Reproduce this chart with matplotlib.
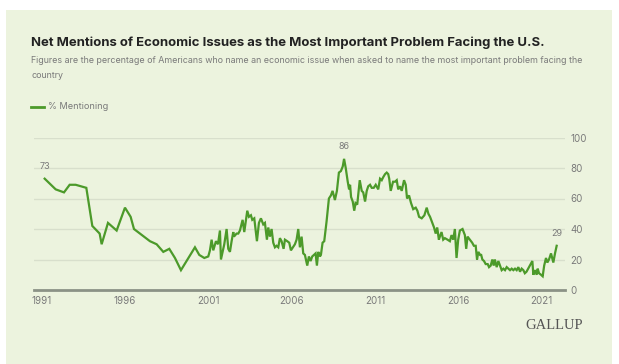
import matplotlib
matplotlib.use("Agg")
import matplotlib.pyplot as plt
from matplotlib.patches import Rectangle

# ---- data ----
years = [
    1991.18, 1991.84, 1992.34, 1992.68, 1993.04, 1993.68, 1994.04, 1994.48, 1994.60, 1994.98,
    1995.50, 1996.00, 1996.34, 1996.54, 1997.50, 1997.90, 1998.30, 1998.66, 1999.00, 1999.36,
    2000.20, 2000.46, 2000.76, 2001.00, 2001.10, 2001.20, 2001.30, 2001.46, 2001.58, 2001.70,
    2001.76, 2001.96, 2002.10, 2002.20, 2002.30, 2002.40, 2002.50, 2002.54, 2002.70, 2002.80,
    2002.90, 2003.06, 2003.16, 2003.34, 2003.44, 2003.56, 2003.64, 2003.76, 2003.92, 2004.04,
    2004.16, 2004.30, 2004.40, 2004.52, 2004.60, 2004.70, 2004.80, 2004.90, 2005.00, 2005.10,
    2005.20, 2005.30, 2005.40, 2005.52, 2005.60, 2005.74, 2005.86, 2005.96, 2006.08, 2006.20,
    2006.30, 2006.40, 2006.50, 2006.60, 2006.70, 2006.80, 2006.94, 2007.04, 2007.14, 2007.24,
    2007.34, 2007.44, 2007.52, 2007.60, 2007.70, 2007.76, 2007.86, 2007.96, 2008.10, 2008.24,
    2008.36, 2008.46, 2008.60, 2008.72, 2008.84, 2008.96, 2009.07, 2009.15, 2009.25, 2009.37,
    2009.45, 2009.51, 2009.57, 2009.67, 2009.76, 2009.84, 2009.94, 2010.09, 2010.21, 2010.30,
    2010.41, 2010.51, 2010.60, 2010.71, 2010.81, 2010.93, 2011.05, 2011.20, 2011.31, 2011.41,
    2011.50, 2011.61, 2011.71, 2011.80, 2011.86, 2011.95, 2012.09, 2012.21, 2012.31, 2012.40,
    2012.51, 2012.61, 2012.75, 2012.85, 2012.93, 2013.05, 2013.17, 2013.30, 2013.45, 2013.55,
    2013.65, 2013.81, 2013.97, 2014.11, 2014.21, 2014.31, 2014.41, 2014.55, 2014.65, 2014.74,
    2014.84, 2014.90, 2015.00, 2015.10, 2015.20, 2015.36, 2015.50, 2015.60, 2015.70, 2015.80,
    2015.90, 2016.00, 2016.10, 2016.26, 2016.40, 2016.48, 2016.56, 2016.70, 2016.84, 2016.94,
    2017.05, 2017.13, 2017.21, 2017.31, 2017.38, 2017.45, 2017.55, 2017.65, 2017.77, 2017.85,
    2017.95, 2018.05, 2018.13, 2018.20, 2018.31, 2018.41, 2018.51, 2018.61, 2018.71, 2018.81,
    2018.91, 2019.01, 2019.11, 2019.21, 2019.31, 2019.41, 2019.51, 2019.61, 2019.71, 2019.81,
    2019.91, 2020.00, 2020.10, 2020.20, 2020.30, 2020.45, 2020.51, 2020.61, 2020.71, 2020.77,
    2020.85, 2020.97, 2021.07, 2021.16, 2021.27, 2021.35, 2021.45, 2021.57, 2021.71, 2021.81,
    2021.91,
]
mentioning = [
    73, 66, 64, 69, 69, 67, 42, 37, 30, 44,
    39, 54, 48, 40, 32, 30, 25, 27, 21, 13,
    28, 23, 21, 22, 26, 33, 26, 32, 30, 39,
    20, 30, 40, 27, 25, 32, 38, 35, 37, 37,
    39, 46, 38, 52, 48, 49, 46, 47, 32, 44,
    47, 43, 44, 33, 41, 35, 40, 31, 28, 29,
    28, 34, 32, 27, 33, 32, 31, 26, 28, 30,
    33, 40, 28, 35, 24, 23, 16, 22, 19, 22,
    23, 24, 16, 25, 22, 23, 31, 32, 45, 60,
    62, 65, 59, 65, 77, 78, 81, 86, 80, 71,
    66, 69, 61, 58, 52, 57, 56, 72, 65, 64,
    58, 65, 68, 69, 67, 67, 69, 66, 73, 72,
    74, 76, 77, 76, 73, 65, 71, 71, 72, 66,
    68, 65, 72, 69, 60, 62, 57, 53, 54, 52,
    48, 47, 49, 54, 50, 48, 45, 41, 37, 41,
    33, 35, 38, 33, 34, 33, 32, 36, 33, 40,
    21, 33, 39, 40, 36, 27, 35, 33, 31, 29,
    29, 20, 25, 23, 23, 20, 19, 17, 17, 15,
    16, 20, 16, 20, 15, 19, 16, 13, 14, 13,
    15, 14, 13, 14, 13, 14, 13, 15, 12, 14,
    13, 11, 12, 14, 16, 19, 10, 13, 10, 14,
    11, 10, 9, 16, 21, 18, 20, 24, 18, 24,
    29,
]
tick_years = [1991, 1996, 2001, 2006, 2011, 2016, 2021]
y_ticks = [0, 20, 40, 60, 80, 100]
labeled_points = [0, mentioning.index(86), len(mentioning) - 1]

title = "Net Mentions of Economic Issues as the Most Important Problem Facing the U.S."
subtitle_lines = [
    "Figures are the percentage of Americans who name an economic issue when asked to name the most important problem facing the",
    "country",
]
legend_label = "% Mentioning"

# ---- style ----
BG = "#ecf3de"
LINE = "#4c9a2a"
GRID = "#d8dfcc"
AXIS = "#8b9286"
TXT = "#7a7a7a"

plt.rcParams["font.family"] = ["Inter", "DejaVu Sans"]

W, H = 619, 364
fig = plt.figure(figsize=(W / 100, H / 100), dpi=100)
fig.patch.set_facecolor("white")
fig.add_artist(Rectangle((6 / W, 0), (612 - 6) / W, (H - 10) / H, transform=fig.transFigure,
                         facecolor=BG, edgecolor="none", zorder=0))

ax = fig.add_axes([34 / W, (H - 290) / H, (565 - 34) / W, (290 - 137.5) / H])
ax.set_facecolor("none")
ax.set_xlim(1990.54, 2022.41)
ax.set_ylim(0, 100)

for yv in y_ticks[1:]:
    ax.axhline(yv, color=GRID, lw=1.0, zorder=1)
ax.axhline(0, color=AXIS, lw=2.0, zorder=2, clip_on=False)

ax.plot(years, mentioning, color=LINE, lw=1.6, zorder=3, solid_joinstyle="miter")

for i in labeled_points:
    ax.annotate(str(mentioning[i]), (years[i], mentioning[i]), xytext=(0, 5.5),
                textcoords="offset points", ha="center", va="bottom",
                fontsize=6.5, color=TXT)

for s in ax.spines.values():
    s.set_visible(False)
ax.set_xticks(tick_years)
ax.set_xticklabels([str(t) for t in tick_years])
ax.set_yticks(y_ticks)
ax.yaxis.tick_right()
ax.tick_params(axis="both", length=0, labelsize=7, labelcolor=TXT)
ax.tick_params(axis="x", pad=4)
ax.tick_params(axis="y", pad=4)

fig.text(31 / W, 1 - 43 / H, title, fontsize=9.45, fontweight="bold", color="#222222",
         va="center", ha="left")
for k, line in enumerate(subtitle_lines):
    fig.text(31 / W, 1 - (60.5 + 14.5 * k) / H, line, fontsize=6.4, color=TXT,
             va="center", ha="left")

fig.add_artist(plt.Line2D([31 / W, 43.5 / W], [1 - 106.5 / H, 1 - 106.5 / H], color=LINE, lw=2,
                          transform=fig.transFigure))
fig.text(48 / W, 1 - 106.5 / H, legend_label, fontsize=6.6, color=TXT, va="center", ha="left")

fig.text(583 / W, 1 - 325.5 / H, "GALLUP", fontsize=10.5, color="#555555",
         family=["Liberation Serif"], va="center", ha="right")

fig.savefig("out.png", dpi=100, facecolor=fig.get_facecolor())
